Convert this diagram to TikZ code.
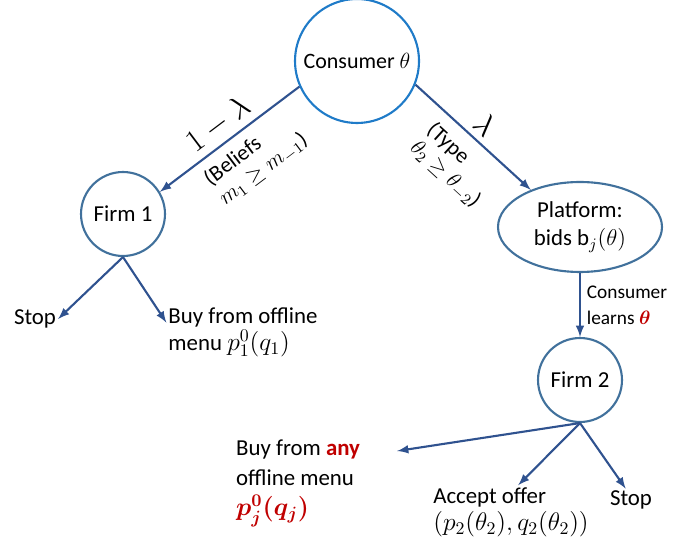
\RequirePackage{fix-cm}
\documentclass[tikz,border=0pt]{standalone}
\usepackage{amsmath}
\usepackage{fontspec}
\setmainfont{Carlito}
\usetikzlibrary{shapes.geometric}
\definecolor{arrowblue}{HTML}{2F528F}
\definecolor{nodeblue}{HTML}{41719C}
\definecolor{topblue}{HTML}{1F7BC8}
\definecolor{offred}{HTML}{C00000}
\tikzset{
  firm/.style={circle,draw=nodeblue,line width=1.2pt,inner sep=0pt,minimum size=1.68cm,font=\fontsize{13}{15}\selectfont},
  lbl/.style={font=\fontsize{13}{15.5}\selectfont,align=left,inner sep=1pt},
  edge/.style={->,draw=arrowblue,line width=1.2pt}
}
\newcommand{\menumath}[1]{{\fontsize{14.5}{16}\selectfont$#1$}}
\begin{document}
\begin{tikzpicture}[>=latex,x=0.02cm,y=-0.02cm]
\useasboundingbox (0,0) rectangle (675,546);
% decision nodes
\node[circle,draw=topblue,line width=1.2pt,inner sep=0pt,minimum size=2.48cm,font=\fontsize{12.5}{15}\selectfont] (cons) at (357,61) {Consumer $\theta$};
\node[firm] (firm1) at (123,214) {Firm 1};
\node[ellipse,draw=nodeblue,line width=1.2pt,inner sep=0pt,minimum width=3.28cm,minimum height=1.8cm,align=center,font=\fontsize{13}{16}\selectfont] (plat) at (580,227) {Platform:\\bids b$_j(\theta)$};
\node[firm] (firm2) at (580,380) {Firm 2};
% outcomes
\node[lbl] (stop1) at (35,319) {Stop};
\node[lbl] (buy1) at (243,332) {Buy from offline\\menu \menumath{p_1^0(q_1)}};
\node[lbl,anchor=north west,font=\fontsize{13}{17}\selectfont] (buyany) at (234,438) {Buy from \textcolor{offred}{\textbf{any}}\\offline menu\\\textcolor{offred}{\menumath{\boldsymbol{p_j^0(q_j)}}}};
\node[lbl] (acc) at (511,512) {Accept offer\\\menumath{(p_2(\theta_2),q_2(\theta_2))}};
\node[lbl] (stop2) at (631,500) {Stop};
% moves
\draw[edge] (cons.204) -- (firm1.31)
  node[pos=.5,sloped,above,font=\fontsize{18}{20}\selectfont]{$1-\lambda$}
  node[pos=.45,sloped,below=4pt,align=left,inner sep=1pt,font=\fontsize{12.5}{14}\selectfont]{(Beliefs\\$m_1\geq m_{-1}$)};
\draw[edge] (cons.338) -- (plat.143)
  node[pos=.5,sloped,above,font=\fontsize{18}{20}\selectfont]{$\lambda$}
  node[pos=.53,sloped,below=5pt,align=left,inner sep=1pt,font=\fontsize{12.5}{14}\selectfont]{(Type\\$\theta_2\geq\theta_{-2}$)};
\draw[edge] (firm1.south) -- (stop1.east);
\draw[edge] (firm1.south) -- (buy1.173);
\draw[edge] (plat.south) -- (firm2.north)
  node[midway,right,align=left,font=\fontsize{11}{15}\selectfont]{Consumer\\learns $\textcolor{offred}{\boldsymbol{\theta}}$};
\draw[edge] (firm2.south) -- ([shift={(35,13)}]buyany.north east);
\draw[edge] (firm2.south) -- (acc.75);
\draw[edge] (firm2.south) -- (stop2.115);
\end{tikzpicture}
\end{document}
